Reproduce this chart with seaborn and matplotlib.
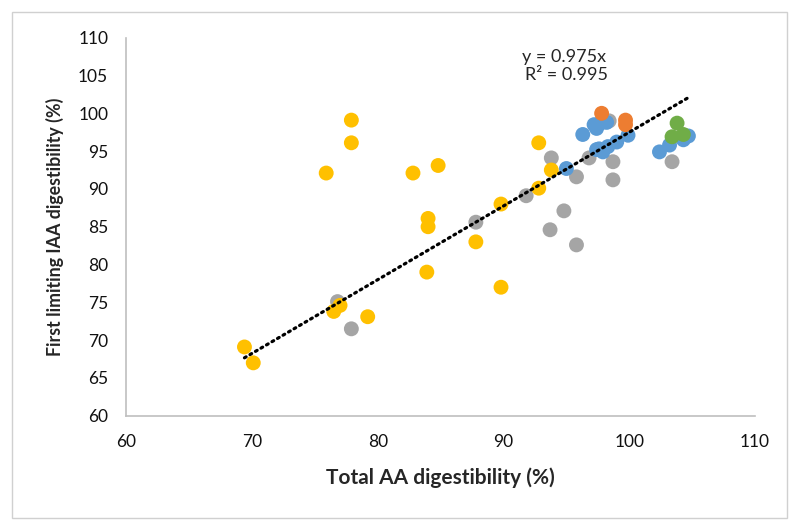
import matplotlib
matplotlib.use("Agg")
import matplotlib.pyplot as plt
import seaborn as sns
import pandas as pd
from matplotlib.patches import Rectangle

# series (total AA digestibility, first limiting IAA digestibility)
gray_x = [76.8, 77.9, 87.8, 91.8, 93.8, 93.7, 94.8, 95.8, 95.8, 96.8, 98.7, 98.7, 98.4, 103.4]
gray_y = [75.1, 71.5, 85.6, 89.1, 94.1, 84.6, 87.1, 82.6, 91.6, 94.1, 93.6, 91.2, 99.0, 93.6]

blue_x = [95.0, 96.3, 97.2, 97.4, 97.7, 98.2, 99.9, 99.0, 98.3, 97.6, 97.9, 97.4,
          102.4, 103.2, 104.3, 104.7]
blue_y = [92.7, 97.2, 98.5, 98.0, 98.7, 98.8, 97.1, 96.2, 95.6, 95.3, 94.9, 95.2,
          94.9, 95.8, 96.5, 97.0]

orange_x = [97.8, 99.7, 99.7]
orange_y = [100.0, 99.1, 98.5]

yellow_x = [69.4, 70.1, 76.5, 77.0, 79.2, 83.9, 89.8, 87.8, 77.9, 77.9, 75.9, 82.8,
            84.8, 84.0, 84.0, 89.8, 92.8, 92.8, 93.8]
yellow_y = [69.1, 67.0, 73.8, 74.6, 73.1, 79.0, 77.0, 83.0, 99.1, 96.1, 92.1, 92.1,
            93.1, 86.1, 85.0, 88.0, 90.1, 96.1, 92.5]

green_x = [103.8, 103.4, 104.3]
green_y = [98.7, 96.9, 97.2]

groups = ["gray", "blue", "orange", "yellow", "green"]
colors = {"gray": "#A5A5A5", "blue": "#5B9BD5", "orange": "#ED7D31",
          "yellow": "#FFC000", "green": "#70AD47"}

slope = 0.975
r2 = 0.995

frames = []
for name, xs, ys in [("gray", gray_x, gray_y), ("blue", blue_x, blue_y),
                     ("orange", orange_x, orange_y), ("yellow", yellow_x, yellow_y),
                     ("green", green_x, green_y)]:
    frames.append(pd.DataFrame({"total": xs, "iaa": ys, "group": name}))
df = pd.concat(frames, ignore_index=True)

sns.set_style("white")
plt.rcParams["font.family"] = ["Lato", "DejaVu Sans"]

fig = plt.figure(figsize=(7.99, 5.31), dpi=100)
ax = fig.add_axes([0.158, 0.217, 0.787, 0.712])

sns.scatterplot(data=df, x="total", y="iaa", hue="group", hue_order=groups,
                palette=colors, s=115, edgecolor="none", linewidth=0,
                legend=False, ax=ax, zorder=2)

# linear trendline through the origin
x0, x1 = df["total"].min(), df["total"].max()
ax.plot([x0, x1], [slope * x0, slope * x1], color="black", lw=2.3,
        linestyle=(0, (0.6, 1.4)), dash_capstyle="round", zorder=3)

ax.text(91.5, 107.5, f"y = {slope}x", fontsize=13, va="center", ha="left")
ax.text(91.7, 105.1, f"R² = {r2}", fontsize=13, va="center", ha="left")

ax.set_xlim(60, 110)
ax.set_ylim(60, 110)
ax.set_xticks(range(60, 111, 10))
ax.set_yticks(range(60, 111, 5))
ax.tick_params(length=0, labelsize=12.5, colors="#111111")
ax.tick_params(axis="x", pad=13)
ax.tick_params(axis="y", pad=13)

for side in ["top", "right"]:
    ax.spines[side].set_visible(False)
for side in ["left", "bottom"]:
    ax.spines[side].set_color("#BFBFBF")
    ax.spines[side].set_linewidth(1.2)

ax.set_xlabel("Total AA digestibility (%)", fontsize=15, fontweight="bold", labelpad=13)
ax.set_ylabel("First limiting IAA digestibility (%)", fontsize=12.8, fontweight="bold", labelpad=10)

# chart area border
fig.patches.append(Rectangle((0.015, 0.024), 0.970, 0.953, transform=fig.transFigure,
                             fill=False, edgecolor="#D0D0D0", linewidth=1))

fig.savefig("out.png", dpi=100)
